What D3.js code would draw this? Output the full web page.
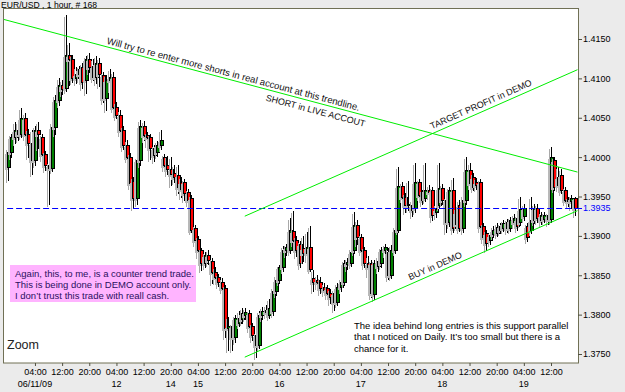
<!DOCTYPE html>
<html>
<head>
<meta charset="utf-8">
<script src="https://cdn.jsdelivr.net/npm/d3@7"></script>
<style>
  body { margin: 0; background: #ebebeb; }
  svg { display: block; }
  text { font-family: "Liberation Sans", Arial, sans-serif; }
</style>
</head>
<body>
<div id="chart"></div>
<script>
// EUR/USD, 1 hour, 168 bars  -- rows are [open, high, low, close]
var ohlc = [
  [1.3988,1.4012,1.3971,1.4006],[1.4006,1.4030,1.4000,1.4025],[1.4025,1.4044,1.4018,1.4034],[1.4034,1.4045,1.4022,1.4030],
  [1.4030,1.4062,1.4026,1.4050],[1.4050,1.4056,1.4024,1.4030],[1.4030,1.4036,1.4000,1.4018],[1.4018,1.4034,1.3978,1.3996],
  [1.3996,1.4040,1.3990,1.4034],[1.4034,1.4045,1.4012,1.4030],[1.4025,1.4030,1.3998,1.4004],[1.4004,1.4008,1.3984,1.3990],
  [1.3990,1.3994,1.3941,1.3986],[1.3986,1.4045,1.3982,1.4038],[1.4038,1.4079,1.4030,1.4072],[1.4072,1.4100,1.4066,1.4092],
  [1.4092,1.4098,1.4080,1.4086],[1.4088,1.4180,1.4084,1.4130],[1.4130,1.4145,1.4092,1.4124],[1.4124,1.4130,1.4095,1.4101],
  [1.4101,1.4115,1.4094,1.4106],[1.4106,1.4116,1.4098,1.4112],[1.4114,1.4120,1.4088,1.4096],[1.4098,1.4128,1.4082,1.4124],
  [1.4124,1.4132,1.4108,1.4114],[1.4116,1.4125,1.4098,1.4102],[1.4102,1.4128,1.4094,1.4120],[1.4120,1.4126,1.4090,1.4106],
  [1.4104,1.4108,1.4070,1.4075],[1.4075,1.4104,1.4060,1.4098],[1.4098,1.4112,1.4085,1.4102],[1.4102,1.4108,1.4060,1.4064],
  [1.4064,1.4070,1.4050,1.4054],[1.4054,1.4060,1.4030,1.4035],[1.4035,1.4040,1.4010,1.4015],[1.4015,1.4022,1.3996,1.4000],
  [1.4000,1.4005,1.3962,1.3967],[1.3970,1.3975,1.3935,1.3948],[1.3948,1.4000,1.3940,1.3996],[1.3996,1.4047,1.3990,1.4040],
  [1.4040,1.4046,1.4022,1.4028],[1.4028,1.4032,1.4015,1.4025],[1.4025,1.4030,1.3998,1.4012],[1.4012,1.4015,1.3995,1.4003],
  [1.4006,1.4020,1.4002,1.4015],[1.4015,1.4035,1.4010,1.4022],[1.4000,1.4004,1.3985,1.3990],[1.3990,1.4002,1.3978,1.3985],
  [1.3985,1.4000,1.3965,1.3978],[1.3980,1.3990,1.3968,1.3975],[1.3977,1.3990,1.3955,1.3962],[1.3968,1.3975,1.3950,1.3960],
  [1.3968,1.3972,1.3945,1.3954],[1.3956,1.3960,1.3940,1.3946],[1.3948,1.3952,1.3905,1.3908],[1.3910,1.3914,1.3890,1.3895],
  [1.3896,1.3900,1.3875,1.3882],[1.3882,1.3885,1.3857,1.3866],[1.3866,1.3880,1.3860,1.3876],[1.3876,1.3882,1.3864,1.3870],
  [1.3868,1.3872,1.3840,1.3854],[1.3854,1.3860,1.3842,1.3848],[1.3848,1.3852,1.3836,1.3842],[1.3842,1.3846,1.3830,1.3834],
  [1.3834,1.3838,1.3771,1.3783],[1.3783,1.3797,1.3755,1.3785],[1.3785,1.3790,1.3755,1.3771],[1.3771,1.3800,1.3765,1.3796],
  [1.3790,1.3805,1.3786,1.3796],[1.3794,1.3808,1.3790,1.3802],[1.3799,1.3808,1.3795,1.3803],[1.3802,1.3806,1.3780,1.3785],
  [1.3785,1.3790,1.3768,1.3774],[1.3774,1.3778,1.3746,1.3762],[1.3762,1.3805,1.3758,1.3800],[1.3800,1.3810,1.3795,1.3804],
  [1.3803,1.3812,1.3798,1.3806],[1.3800,1.3820,1.3796,1.3808],[1.3805,1.3835,1.3800,1.3830],[1.3830,1.3850,1.3825,1.3844],
  [1.3844,1.3863,1.3840,1.3860],[1.3860,1.3887,1.3855,1.3882],[1.3882,1.3890,1.3876,1.3886],[1.3882,1.3923,1.3878,1.3908],
  [1.3906,1.3932,1.3890,1.3895],[1.3895,1.3900,1.3875,1.3882],[1.3890,1.3894,1.3860,1.3866],[1.3885,1.3900,1.3868,1.3878],
  [1.3878,1.3905,1.3870,1.3886],[1.3886,1.3912,1.3855,1.3858],[1.3846,1.3857,1.3830,1.3842],[1.3844,1.3850,1.3835,1.3841],
  [1.3841,1.3848,1.3828,1.3834],[1.3835,1.3840,1.3826,1.3831],[1.3834,1.3838,1.3822,1.3828],[1.3828,1.3832,1.3815,1.3822],
  [1.3828,1.3832,1.3806,1.3816],[1.3816,1.3840,1.3812,1.3835],[1.3835,1.3846,1.3830,1.3842],[1.3842,1.3870,1.3838,1.3866],
  [1.3864,1.3872,1.3858,1.3867],[1.3866,1.3885,1.3862,1.3880],[1.3882,1.3930,1.3878,1.3914],[1.3914,1.3920,1.3890,1.3898],
  [1.3898,1.3902,1.3878,1.3882],[1.3882,1.3886,1.3860,1.3866],[1.3866,1.3875,1.3850,1.3860],[1.3866,1.3870,1.3822,1.3828],
  [1.3826,1.3870,1.3820,1.3866],[1.3868,1.3874,1.3855,1.3862],[1.3866,1.3886,1.3860,1.3882],[1.3882,1.3890,1.3876,1.3886],
  [1.3880,1.3885,1.3845,1.3850],[1.3850,1.3888,1.3846,1.3882],[1.3882,1.3912,1.3878,1.3908],[1.3908,1.3987,1.3905,1.3963],
  [1.3963,1.3968,1.3945,1.3950],[1.3950,1.3955,1.3930,1.3939],[1.3941,1.3970,1.3933,1.3939],[1.3939,1.3945,1.3925,1.3933],
  [1.3936,1.3993,1.3930,1.3968],[1.3968,1.3972,1.3948,1.3952],[1.3952,1.3958,1.3940,1.3946],[1.3948,1.3993,1.3944,1.3958],
  [1.3958,1.3964,1.3950,1.3956],[1.3958,1.3962,1.3920,1.3927],[1.3930,1.3940,1.3924,1.3934],[1.3939,1.3993,1.3935,1.3961],
  [1.3961,1.3966,1.3940,1.3946],[1.3946,1.3950,1.3905,1.3917],[1.3917,1.3962,1.3912,1.3958],[1.3958,1.3974,1.3905,1.3910],
  [1.3915,1.3936,1.3910,1.3930],[1.3939,1.3945,1.3906,1.3910],[1.3910,1.3952,1.3905,1.3946],[1.3946,1.4000,1.3940,1.3984],
  [1.3984,1.3993,1.3962,1.3967],[1.3975,1.3980,1.3958,1.3962],[1.3968,1.3974,1.3960,1.3965],[1.3968,1.3972,1.3908,1.3912],
  [1.3912,1.3916,1.3894,1.3899],[1.3904,1.3908,1.3882,1.3891],[1.3895,1.3905,1.3890,1.3901],[1.3902,1.3912,1.3898,1.3908],
  [1.3911,1.3916,1.3900,1.3904],[1.3908,1.3916,1.3904,1.3912],[1.3910,1.3920,1.3906,1.3916],[1.3917,1.3922,1.3905,1.3910],
  [1.3910,1.3924,1.3906,1.3920],[1.3917,1.3928,1.3913,1.3923],[1.3922,1.3926,1.3908,1.3913],[1.3918,1.3950,1.3914,1.3934],
  [1.3925,1.3940,1.3920,1.3936],[1.3912,1.3916,1.3893,1.3899],[1.3908,1.3950,1.3904,1.3920],[1.3920,1.3940,1.3916,1.3936],
  [1.3936,1.3940,1.3918,1.3923],[1.3920,1.3930,1.3915,1.3927],[1.3922,1.3930,1.3918,1.3926],[1.3926,1.3930,1.3915,1.3922],
  [1.3922,1.4013,1.3918,1.4000],[1.3996,1.4000,1.3958,1.3962],[1.3975,1.3988,1.3960,1.3964],[1.3977,1.3985,1.3955,1.3958],
  [1.3958,1.3962,1.3942,1.3946],[1.3946,1.3950,1.3938,1.3944],[1.3944,1.3952,1.3936,1.3948],[1.3948,1.3950,1.3927,1.3935]
];

// bottom axis: bar index of each label, hour text, date text
var tickBars  = [8, 16, 24, 32, 40, 48, 56, 64, 72, 80, 88, 96, 104, 112, 120, 128, 136, 144, 152, 160];
var tickTimes = ["04:00","12:00","20:00","04:00","12:00","20:00","04:00","12:00","20:00","04:00",
                 "12:00","20:00","04:00","12:00","20:00","04:00","12:00","20:00","04:00","12:00"];
var tickDates = ["06/11/09","","","12","","14","15","","","16","","","17","","","18","","","19",""];

// right axis prices
var priceTicks = [1.3750, 1.3800, 1.3850, 1.3900, 1.3950, 1.4000, 1.4050, 1.4100, 1.4150];
var lastPrice = 1.3935;

// trendlines as [bar, price] end points
var shortLine  = [[-1.3, 1.4175], [167.8, 1.3981]];
var targetLine = [[69.8, 1.3925], [167.8, 1.4111]];
var buyLine    = [[69.8, 1.3746], [167.8, 1.3932]];

var titleText = "EUR/USD , 1 hour, # 168";
var noteShort = "Will try to re enter more shorts in real account at this trendline.";
var noteLive = "SHORT in LIVE ACCOUT";
var noteTarget = "TARGET PROFIT in DEMO";
var noteBuy = "BUY in DEMO";
var pinkNote = ["Again, this, to me, is a counter trend trade.",
                "This is being done in DEMO account only.",
                "I don\u2019t trust this trade with reall cash."];
var ideaNote = ["The idea behind long entries is this support parallel",
                "that I noticed on Daily. It\u2019s too small but there is a",
                "chance for it."];

var W = 625, H = 392;
var plot = {left: 3, right: 578, top: 9, bottom: 363};

var x = d3.scaleLinear().domain([0, 167]).range([7.8, 7.8 + 167 * 3.395]);
var y = d3.scaleLinear().domain([1.3750, 1.4150]).range([354, 39]);

var svg = d3.select("#chart").append("svg")
    .attr("width", W)
    .attr("height", H);

svg.append("rect")
    .attr("width", W).attr("height", H)
    .attr("fill", "#ebebeb");

svg.append("rect")
    .attr("x", plot.left + 0.5).attr("y", plot.top - 0.5)
    .attr("width", plot.right - plot.left).attr("height", plot.bottom - plot.top + 0.5)
    .attr("fill", "#fff")
    .attr("stroke", "#707055");

svg.append("defs").append("clipPath").attr("id", "clip")
    .append("rect")
    .attr("x", plot.left + 1).attr("y", plot.top)
    .attr("width", plot.right - plot.left - 1).attr("height", plot.bottom - plot.top);

var g = svg.append("g").attr("clip-path", "url(#clip)");

function bodyTop(d) { return Math.round(y(Math.max(d[0], d[3]))); }
function bodyBot(d) { return Math.round(y(Math.min(d[0], d[3]))); }
function bodyH(d) { return Math.max(bodyBot(d) - bodyTop(d), 1) + 1; }
function wickTop(d) { return Math.round(y(d[1])); }
function wickH(d) { return Math.round(y(d[2])) - Math.round(y(d[1])) + 1; }

// candles: grey shadow first, then wick and body
var cg = g.append("g").attr("shape-rendering", "crispEdges");

var candle = cg.selectAll(".candle")
    .data(ohlc)
    .enter()
    .append("g")
    .attr("class", "candle")
    .attr("transform", function(d, i) { return "translate(" + Math.round(x(i)) + ",0)"; });

candle.append("rect")
    .attr("x", -2).attr("width", 1)
    .attr("y", function(d) { return wickTop(d) + 2; })
    .attr("height", wickH)
    .attr("fill", "#a8a8a8");

candle.append("rect")
    .attr("x", -3).attr("width", 4)
    .attr("y", function(d) { return bodyTop(d) + 2; })
    .attr("height", bodyH)
    .attr("fill", "#b8b8b8");

candle.append("rect")
    .attr("x", 0).attr("width", 1)
    .attr("y", wickTop)
    .attr("height", wickH)
    .attr("fill", "#000");

candle.append("rect")
    .attr("x", -1).attr("width", 4)
    .attr("y", bodyTop)
    .attr("height", bodyH)
    .attr("fill", "#000");

candle.filter(function(d) { return bodyBot(d) - bodyTop(d) > 1; })
    .append("rect")
    .attr("x", 0).attr("width", 2)
    .attr("y", function(d) { return bodyTop(d) + 1; })
    .attr("height", function(d) { return bodyBot(d) - bodyTop(d) - 1; })
    .attr("fill", function(d) { return d[3] >= d[0] ? "#008000" : "#ff0000"; });

// last price dashed line
g.append("line")
    .attr("x1", x(-0.2)).attr("x2", plot.right)
    .attr("y1", Math.round(y(lastPrice)) + 0.5).attr("y2", Math.round(y(lastPrice)) + 0.5)
    .attr("stroke", "#0000ff")
    .attr("stroke-dasharray", "6,3");

// trendlines
var lineGen = d3.line()
    .x(function(d) { return x(d[0]); })
    .y(function(d) { return y(d[1]); });

g.selectAll(".trend")
    .data([shortLine, targetLine, buyLine])
    .enter()
    .append("path")
    .attr("class", "trend")
    .attr("d", lineGen)
    .attr("fill", "none")
    .attr("stroke", "#00ee00")
    .attr("stroke-width", 1);

function lineNote(line, bar, dy, txt, size) {
    var x0 = x(line[0][0]), y0 = y(line[0][1]);
    var x1 = x(line[1][0]), y1 = y(line[1][1]);
    var ang = Math.atan2(y1 - y0, x1 - x0) * 180 / Math.PI;
    var px = x(bar);
    var py = y0 + (px - x0) * (y1 - y0) / (x1 - x0) + dy;
    svg.append("text")
        .attr("transform", "translate(" + px + "," + py + ") rotate(" + ang + ")")
        .attr("font-size", size)
        .attr("fill", "#111")
        .text(txt);
}

lineNote(shortLine, 29.0, -3, noteShort, 9.5);
lineNote(shortLine, 75.8, 11.5, noteLive, 9);
lineNote(targetLine, 124.9, -4.5, noteTarget, 9);
lineNote(buyLine, 118.5, -4, noteBuy, 9);

// pink box note
svg.append("rect")
    .attr("x", 10).attr("y", 265)
    .attr("width", 186).attr("height", 37)
    .attr("fill", "#ffb4ff");

svg.append("g").selectAll("text")
    .data(pinkNote)
    .enter()
    .append("text")
    .attr("x", 15)
    .attr("y", function(d, i) { return 277 + i * 10.8; })
    .attr("font-size", 9.5)
    .attr("fill", "#2a1060")
    .text(function(d) { return d; });

svg.append("g").selectAll("text")
    .data(ideaNote)
    .enter()
    .append("text")
    .attr("x", 354)
    .attr("y", function(d, i) { return 328.5 + i * 11.7; })
    .attr("font-size", 9.5)
    .attr("fill", "#000")
    .text(function(d) { return d; });

svg.append("text")
    .attr("x", 7).attr("y", 349)
    .attr("font-size", 12.5)
    .attr("fill", "#222")
    .text("Zoom");

svg.append("text")
    .attr("x", 1).attr("y", 7.5)
    .attr("font-size", 8.6)
    .attr("fill", "#000")
    .text(titleText);

// right price axis
var yAxis = d3.axisRight(y)
    .tickValues(priceTicks)
    .tickSize(4)
    .tickPadding(1)
    .tickFormat(d3.format(".4f"));

var ya = svg.append("g")
    .attr("transform", "translate(" + plot.right + ",0)")
    .call(yAxis);
ya.select(".domain").remove();
ya.selectAll("line").attr("stroke", "#505040");
ya.selectAll("text").attr("font-size", 9).attr("font-family", null).attr("fill", "#000");

// last price label
var lp = svg.append("g").attr("transform", "translate(" + plot.right + "," + (Math.round(y(lastPrice)) + 0.5) + ")");
lp.append("line").attr("x1", 0).attr("x2", 4).attr("stroke", "#0000ff");
lp.append("text").attr("x", 5).attr("dy", "0.32em")
    .attr("font-size", 9).attr("fill", "#0000ff")
    .text(d3.format(".4f")(lastPrice));

// bottom time axis
var xAxis = d3.axisBottom(x)
    .tickValues(tickBars)
    .tickSize(3)
    .tickPadding(3)
    .tickFormat(function(d, i) { return tickTimes[i]; });

var xa = svg.append("g")
    .attr("transform", "translate(0," + plot.bottom + ")")
    .call(xAxis);
xa.select(".domain").remove();
xa.selectAll("line").attr("stroke", "#505040");
xa.selectAll("text").attr("font-size", 9).attr("font-family", null).attr("fill", "#000");

svg.append("g").selectAll("text")
    .data(tickBars)
    .enter()
    .append("text")
    .attr("x", function(d) { return x(d); })
    .attr("y", 386.5)
    .attr("text-anchor", "middle")
    .attr("font-size", 9)
    .attr("fill", "#000")
    .text(function(d, i) { return tickDates[i]; });
</script>
</body>
</html>
